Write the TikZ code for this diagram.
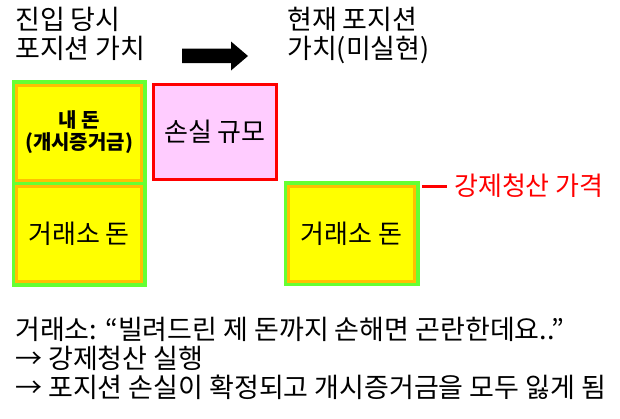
\documentclass[tikz,border=0pt]{standalone}
\usepackage{fontspec}
\setmainfont{Noto Sans CJK KR}
\usetikzlibrary{positioning,fit,backgrounds}
\definecolor{lime}{HTML}{66FF33}
\definecolor{amber}{HTML}{FFC000}
\definecolor{lemon}{HTML}{FFFF00}
\definecolor{blush}{HTML}{FFCCFF}
\definecolor{alarm}{HTML}{FF0000}

\begin{document}
\begin{tikzpicture}[x=1pt, y=-1pt,
    money/.style={draw=amber, line width=3pt, fill=lemon,
                  minimum width=125pt, minimum height=95pt,
                  align=center, inner sep=0pt},
    loss/.style={draw=alarm, line width=3pt, fill=blush,
                 minimum width=123pt, minimum height=95pt,
                 align=center, inner sep=0pt},
    rim/.style={fill=lime, inner sep=3.5pt},
    head/.style={anchor=north west, align=left, inner sep=0pt,
                 font=\fontsize{27}{29}\selectfont},
    big/.style={font=\fontsize{26}{28}\selectfont},
    note/.style={anchor=north west, align=left, inner sep=0pt,
                 font=\fontsize{27}{29}\selectfont}
  ]
    \useasboundingbox (0,0) rectangle (620,418);

    % === Headers ===
    \node[head] (before) at (15,7) {진입 당시\\포지션 가치};
    \node[head] (after) at (287,7) {현재 포지션\\가치(미실현)};
    % block arrow
    \fill (182,48.5) -- (231,48.5) -- (231,41.5) -- (248,56)
      -- (231,70.5) -- (231,63) -- (182,63) -- cycle;

    % === Entry position ===
    \node[money, font=\fontsize{20}{22}\selectfont\bfseries]
      (own) at (79,132.5) {내 돈\\(개시증거금)};
    \node[money, big] (exch) at (79,234) {거래소 돈};

    % === Current position ===
    \node[loss, big] (lossbox) at (215,132) {손실 규모};
    \node[money, big, minimum width=126pt] (exchnow) at (351.5,233.5) {거래소 돈};

    \begin{scope}[on background layer]
      \node[rim, fit=(own)(exch)] (leftrim) {};
      \node[rim, fit=(exchnow)] (rightrim) {};
    \end{scope}

    % Liquidation price
    \node[big, text=alarm, anchor=west, inner sep=0pt]
      (liq) at (454,186) {강제청산 가격};
    \coordinate (tick) at (422,186);
    \draw[alarm, line width=3pt] (tick) -- ([xshift=-7pt]liq.west);

    % === Bottom notes ===
    \node[note] (msg) at (15,317)
      {거래소: “빌려드린 제 돈까지 손해면 곤란한데요..”\\
       → 강제청산 실행\\
       → 포지션 손실이 확정되고 개시증거금을 모두 잃게 됨};
\end{tikzpicture}
\end{document}
